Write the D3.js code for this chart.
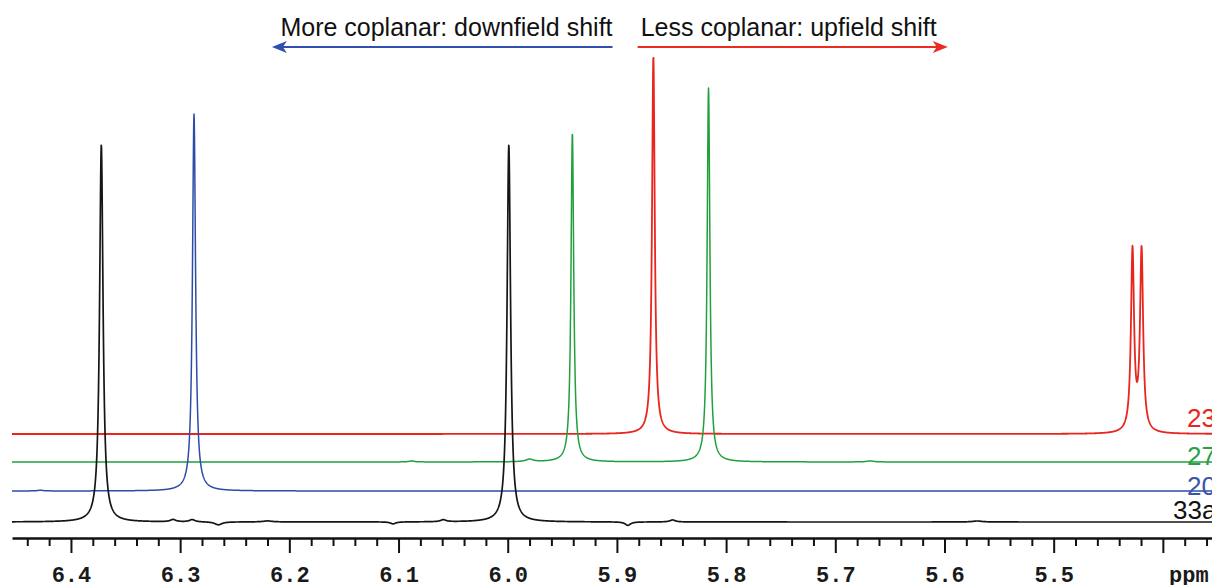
<!DOCTYPE html>
<html>
<head>
<meta charset="utf-8">
<script src="https://d3js.org/d3.v7.min.js"></script>
<style>
  body { margin: 0; background: #fff; }
</style>
</head>
<body>
<div id="spectrum"></div>

<script>

// ---- data ----
// ppm window shown on the axis
var ppmRange = [6.454, 5.355];

// major / minor tick values (ppm)
var majorTicks = [6.4, 6.3, 6.2, 6.1, 6.0, 5.9, 5.8, 5.7, 5.6, 5.5, 5.4];
var minorTicks = [6.44, 6.42, 6.38, 6.36, 6.34, 6.32, 6.28, 6.26, 6.24, 6.22, 6.18, 6.16, 6.14, 6.12,
                  6.08, 6.06, 6.04, 6.02, 5.98, 5.96, 5.94, 5.92, 5.88, 5.86, 5.84, 5.82,
                  5.78, 5.76, 5.74, 5.72, 5.68, 5.66, 5.64, 5.62, 5.58, 5.56, 5.54, 5.52,
                  5.48, 5.46, 5.44, 5.42, 5.38, 5.36];

// compound labels, top trace to bottom trace
var compounds = ["23", "27", "20", "33a"];

// peaks of each trace: [ppm, height, half width (ppm)]
var peaks23 = [[5.8666, 75.6, 0.0015], [5.4278, 36.2, 0.0017], [5.4195, 36.2, 0.0017]];
var peaks27 = [[5.9408, 65.8, 0.0015], [5.8161, 74.8, 0.0015],
               [5.980, 0.5, 0.004], [6.088, 0.2, 0.003], [5.668, 0.2, 0.004]];
var peaks20 = [[6.2873, 75.4, 0.0017], [6.428, 0.15, 0.003]];
var peaks33a = [[6.3722, 75.4, 0.0019], [5.999, 75.4, 0.0019],
                [6.3065, 0.45, 0.003], [6.289, 0.45, 0.003], [6.265, -0.6, 0.004],
                [6.220, 0.2, 0.005], [6.105, -0.4, 0.003], [6.059, 0.4, 0.003],
                [5.890, -0.7, 0.003], [5.849, 0.4, 0.003], [5.570, 0.2, 0.005]];

// annotation arrows (ppm from, ppm to)
var arrowMore = [5.904, 6.216];
var arrowLess = [5.881, 5.597];

// ---- layout ----
var width = 1212, height = 585;

var svg = d3.select("#spectrum")
  .append("svg")
    .attr("width", width)
    .attr("height", height)
    .style("display", "block");

var x = d3.scaleLinear().domain(ppmRange).range([12, 1212]);
// intensity units, 1 unit = 5 px, 0 sits on the axis line
var y = d3.scaleLinear().domain([0, 100]).range([538, 38]);

// vertical stacking of the traces (intensity units) and colours
var offsets = [20.8, 15.2, 9.4, 3.2];
var colors = ["#e8261e", "#20a03c", "#2c4ca8", "#151515"];
var labelColors = ["#e8261e", "#2a9f48", "#3a55a8", "#111"];
var strokes = [1.8, 1.5, 1.5, 1.7];
var allPeaks = [peaks23, peaks27, peaks20, peaks33a];

// sampling grid, 4 samples per pixel so the sharp lines keep their tops
var grid = d3.range(x.range()[0], x.range()[1] + 0.01, 0.25).map(function(px) { return x.invert(px); });

function lorentz(p, pk) {
  var u = (p - pk[0]) / pk[2];
  return pk[1] / (1 + u * u);
}

allPeaks.forEach(function(pks, i) {
  var pts = grid.map(function(p) {
    return [p, d3.sum(pks, function(pk) { return lorentz(p, pk); })];
  });
  var line = d3.line()
    .x(function(d) { return x(d[0]); })
    .y(function(d) { return y(d[1] + offsets[i]); });
  svg.append("path")
    .datum(pts)
    .attr("fill", "none")
    .attr("stroke", colors[i])
    .attr("stroke-width", strokes[i])
    .attr("stroke-linejoin", "round")
    .attr("d", line);
});

// compound labels at the right edge (baseline shift from trace, units)
var labelDy = [1.4, -0.6, -0.8, 0.6];
svg.selectAll(".cmp")
  .data(compounds)
  .enter().append("text")
    .attr("class", "cmp")
    .attr("x", function(d, i) { return i == 3 ? 1173 : 1187; })
    .attr("y", function(d, i) { return y(offsets[i] + labelDy[i]); })
    .attr("fill", function(d, i) { return labelColors[i]; })
    .style("font-family", "'Liberation Sans', Arial, sans-serif")
    .style("font-size", "26px")
    .text(function(d) { return d; });

// x axis: minor then major ticks
var axisY = y(0);
var minorAxis = svg.append("g")
  .attr("transform", "translate(0," + axisY + ")")
  .call(d3.axisBottom(x).tickValues(minorTicks).tickSize(8).tickSizeOuter(0).tickFormat(""));
minorAxis.select(".domain").remove();

var majorAxis = svg.append("g")
  .attr("transform", "translate(0," + axisY + ")")
  .call(d3.axisBottom(x).tickValues(majorTicks).tickSize(15).tickSizeOuter(0)
    .tickFormat(function(d) { return d == 5.4 ? "" : d3.format(".1f")(d); }));

svg.selectAll(".tick line").attr("stroke", "#111").attr("stroke-width", 2);
majorAxis.select(".domain").attr("stroke", "#111").attr("stroke-width", 2.5);
majorAxis.selectAll("text")
  .attr("y", 44)
  .attr("dy", null)
  .attr("fill", "#1a1a1a")
  .style("font-family", "'Liberation Mono', 'Courier New', monospace")
  .style("font-weight", "bold")
  .style("font-size", "22px");

svg.append("text")
  .attr("x", x(5.4) + 26)
  .attr("y", axisY + 44)
  .attr("text-anchor", "middle")
  .attr("fill", "#1a1a1a")
  .style("font-family", "'Liberation Mono', 'Courier New', monospace")
  .style("font-weight", "bold")
  .style("font-size", "22px")
  .text("ppm");

// annotation arrows and captions
function arrow(ppms, color) {
  var x0 = x(ppms[0]), x1 = x(ppms[1]), ay = 47;
  var dir = x1 > x0 ? 1 : -1;
  svg.append("line")
    .attr("x1", x0).attr("y1", ay)
    .attr("x2", x1 - dir * 8).attr("y2", ay)
    .attr("stroke", color)
    .attr("stroke-width", 2);
  svg.append("path")
    .attr("d", "M" + x1 + "," + ay +
               "L" + (x1 - dir * 15) + "," + (ay - 6) +
               "L" + (x1 - dir * 11) + "," + ay +
               "L" + (x1 - dir * 15) + "," + (ay + 6) + "Z")
    .attr("fill", color);
}
arrow(arrowMore, "#3050b0");
arrow(arrowLess, "#ec2b24");

svg.append("text")
  .attr("x", x(arrowMore[0]))
  .attr("y", 36)
  .attr("text-anchor", "end")
  .attr("fill", "#111")
  .style("font-family", "'Liberation Sans', Arial, sans-serif")
  .style("font-size", "25px")
  .text("More coplanar: downfield shift");

svg.append("text")
  .attr("x", x(arrowLess[0]) + 3)
  .attr("y", 36)
  .attr("fill", "#111")
  .style("font-family", "'Liberation Sans', Arial, sans-serif")
  .style("font-size", "25px")
  .text("Less coplanar: upfield shift");

</script>
</body>
</html>
